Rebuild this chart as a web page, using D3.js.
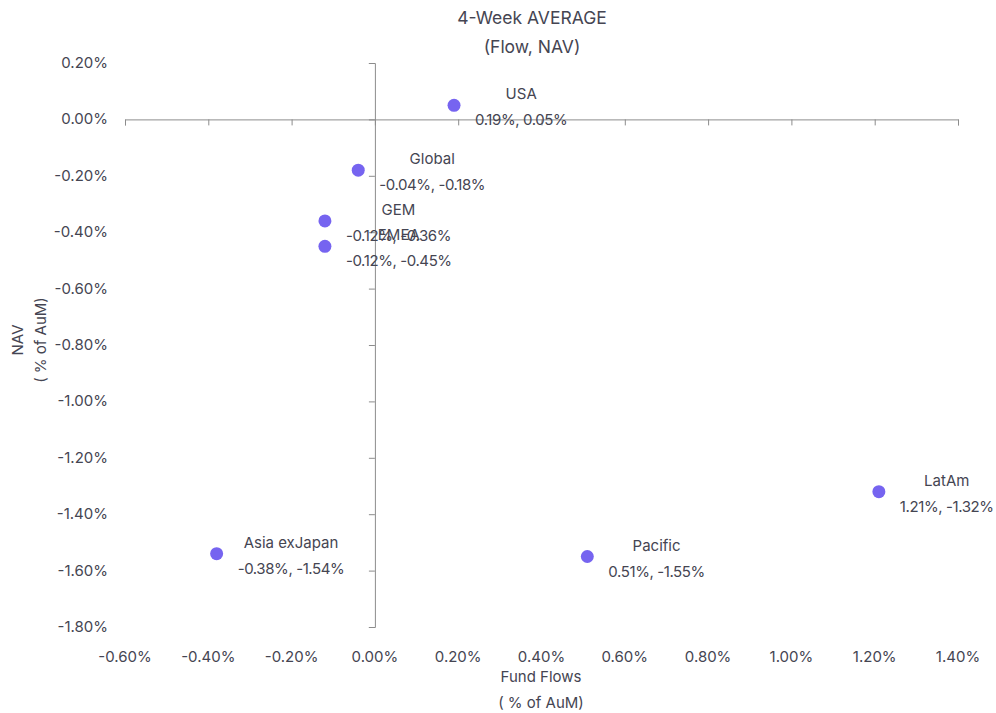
<!DOCTYPE html>
<html>
<head>
<meta charset="utf-8">
<script src="https://cdn.jsdelivr.net/npm/d3@7"></script>
<style>
  html, body { margin: 0; padding: 0; background: #fff; }
  svg { display: block; font-family: "Inter", "Noto Sans", sans-serif; }
</style>
</head>
<body>
<svg id="chart" width="996" height="713"></svg>
<script>
// Regions plotted by 4-week average fund flow (x) and NAV change (y), in % of AuM
const regions = ["USA", "Global", "GEM", "EMEA", "Asia exJapan", "Pacific", "LatAm"];
const flows   = [0.19, -0.04, -0.12, -0.12, -0.38, 0.51, 1.21];
const navs    = [0.05, -0.18, -0.36, -0.45, -1.54, -1.55, -1.32];
const xTicks  = [-0.6, -0.4, -0.2, 0, 0.2, 0.4, 0.6, 0.8, 1.0, 1.2, 1.4];
const yTicks  = [0.2, 0, -0.2, -0.4, -0.6, -0.8, -1.0, -1.2, -1.4, -1.6, -1.8];

const svg = d3.select("#chart");
const textColor = "#454552";
const axisColor = "#8c8c8c";
const dotColor = "#7664f0";
const pct = d => d.toFixed(2) + "%";

const x = d3.scaleLinear().domain([-0.6, 1.4]).range([125, 958]);
const y = d3.scaleLinear().domain([0.2, -1.8]).range([63, 627]);

// Horizontal axis through NAV = 0, labels placed below the plot
const xAxis = svg.append("g").attr("transform", `translate(0,${y(0)})`)
  .call(d3.axisBottom(x).tickValues(xTicks).tickSize(6).tickFormat(""));
xAxis.select(".domain").attr("stroke", axisColor);
xAxis.selectAll(".tick line").attr("stroke", axisColor);

svg.append("g").selectAll("text").data(xTicks).join("text")
  .attr("x", d => x(d)).attr("y", 662)
  .attr("text-anchor", "middle").attr("fill", textColor).attr("font-size", 15)
  .text(pct);

// Vertical axis through flow = 0, labels placed left of the plot
const yAxis = svg.append("g").attr("transform", `translate(${x(0)},0)`)
  .call(d3.axisLeft(y).tickValues(yTicks).tickSize(6).tickFormat(""));
yAxis.select(".domain").attr("stroke", axisColor);
yAxis.selectAll(".tick line").attr("stroke", axisColor);

svg.append("g").selectAll("text").data(yTicks).join("text")
  .attr("x", 108).attr("y", d => y(d) + 5)
  .attr("text-anchor", "end").attr("fill", textColor).attr("font-size", 15)
  .text(pct);

// Title
svg.append("text").attr("x", 532).attr("y", 24).attr("text-anchor", "middle")
  .attr("fill", textColor).attr("font-size", 17.5).text("4-Week AVERAGE");
svg.append("text").attr("x", 532).attr("y", 53).attr("text-anchor", "middle")
  .attr("fill", textColor).attr("font-size", 17.5).text("(Flow, NAV)");

// Axis titles
svg.append("text").attr("x", 541).attr("y", 682).attr("text-anchor", "middle")
  .attr("fill", textColor).attr("font-size", 15).text("Fund Flows");
svg.append("text").attr("x", 541).attr("y", 708).attr("text-anchor", "middle")
  .attr("fill", textColor).attr("font-size", 15).text("( % of AuM)");
svg.append("text").attr("transform", "translate(23,340) rotate(-90)").attr("text-anchor", "middle")
  .attr("fill", textColor).attr("font-size", 15).text("NAV");
svg.append("text").attr("transform", "translate(46,340) rotate(-90)").attr("text-anchor", "middle")
  .attr("fill", textColor).attr("font-size", 15).text("( % of AuM)");

// Points
const data = regions.map((r, i) => ({ name: r, flow: flows[i], nav: navs[i] }));

svg.append("g").selectAll("circle").data(data).join("circle")
  .attr("cx", d => x(d.flow)).attr("cy", d => y(d.nav)).attr("r", 6.5)
  .attr("fill", dotColor);

// Labels: name centred above the value pair, which starts just right of the dot
const labels = svg.append("g").selectAll("g").data(data).join("g")
  .attr("transform", d => `translate(${x(d.flow) + 21},${y(d.nav)})`);

labels.each(function(d) {
  const g = d3.select(this);
  const val = g.append("text").attr("x", 0).attr("y", 20)
    .attr("fill", textColor).attr("font-size", 15).attr("letter-spacing", -0.4)
    .text(`${pct(d.flow)}, ${pct(d.nav)}`);
  const w = val.node().getComputedTextLength();
  g.append("text").attr("x", w / 2).attr("y", -6).attr("text-anchor", "middle")
    .attr("fill", textColor).attr("font-size", 15).text(d.name);
});
</script>
</body>
</html>
